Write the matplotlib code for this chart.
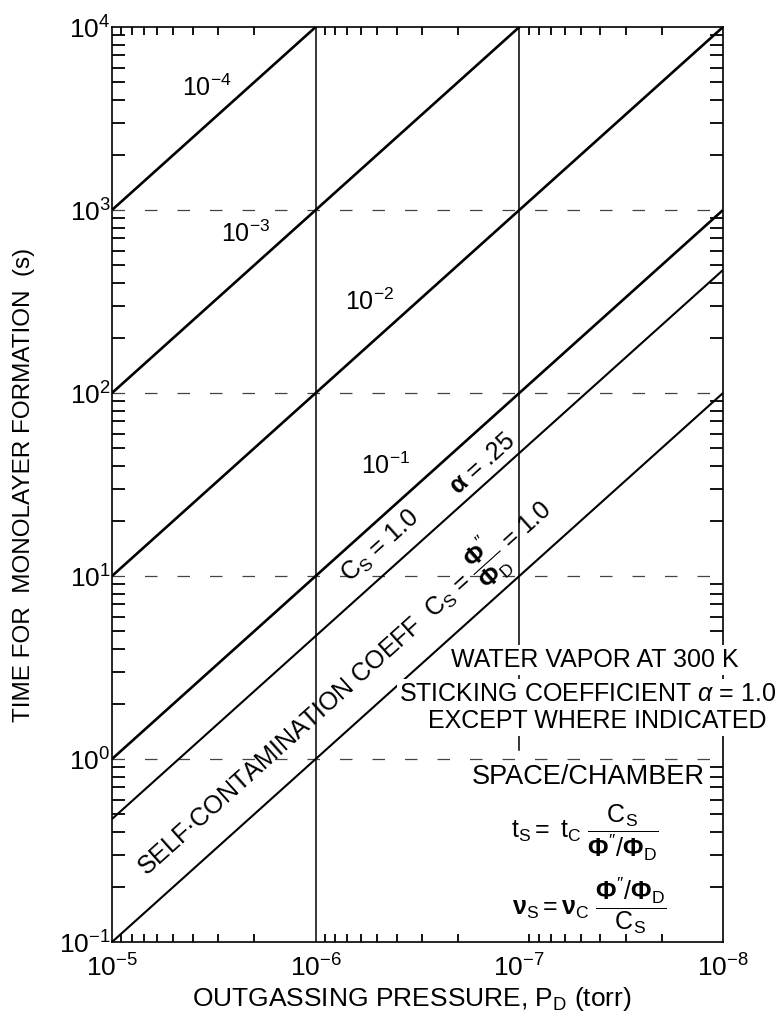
import math
import matplotlib
matplotlib.use('Agg')
import matplotlib.pyplot as plt
from matplotlib import font_manager
from matplotlib.ticker import LogLocator, NullFormatter, LogFormatterMathtext

# values
pressure_ends = [1e-5, 1e-8]          # torr, left and right edge of the plot
line_names = ['1e-4', '1e-3', '1e-2', '1e-1', 'Cs=1.0 a=.25', 'Cs=1.0']
time_left = [1e3, 1e2, 1e1, 1e0, 0.47, 0.1]       # s at 1e-5 torr
time_right = [1e6, 1e5, 1e4, 1e3, 470.0, 100.0]   # s at 1e-8 torr
x_grid = [1e-6, 1e-7]
y_grid = [1e0, 1e1, 1e2, 1e3]

# pick a narrow sans font if there is one
names = {f.name for f in font_manager.fontManager.ttflist}
font = 'Liberation Sans Narrow' if 'Liberation Sans Narrow' in names else 'Liberation Sans'
plt.rcParams['font.family'] = [font, 'DejaVu Sans']
plt.rcParams['mathtext.fontset'] = 'custom'
plt.rcParams['mathtext.rm'] = font
plt.rcParams['mathtext.it'] = font + ':italic'
plt.rcParams['mathtext.bf'] = font + ':bold'

fig = plt.figure(figsize=(7.76, 10.16), dpi=100)
ax = fig.add_axes([0.1443, 0.0728, 0.7874, 0.9006])
ax.set_xscale('log')
ax.set_yscale('log')
ax.set_xlim(1e-5, 1e-8)
ax.set_ylim(1e-1, 1e4)

# grid: solid verticals, broken horizontals
ax.axvline(x_grid[0], color='black', lw=1.1, zorder=1)
ax.axvline(x_grid[1], ymin=0.21, color='black', lw=1.1, zorder=1)
for yv in y_grid:
    ax.axhline(yv, color='#444444', lw=0.9, ls=(0, (10, 16)), zorder=1)

widths = [1.9, 1.9, 1.9, 1.9, 1.5, 1.5]
for tl, tr, w in zip(time_left, time_right, widths):
    ax.plot(pressure_ends, [tl, tr], color='black', lw=w, solid_capstyle='butt', zorder=2)

# ticks
ax.xaxis.set_minor_locator(LogLocator(base=10, subs=range(2, 10), numticks=20))
ax.yaxis.set_minor_locator(LogLocator(base=10, subs=range(2, 10), numticks=20))
ax.xaxis.set_minor_formatter(NullFormatter())
ax.yaxis.set_minor_formatter(NullFormatter())
ax.xaxis.set_major_formatter(LogFormatterMathtext())
ax.yaxis.set_major_formatter(LogFormatterMathtext())
ax.tick_params(which='both', direction='in', top=True, right=True, width=1.3, color='black')
ax.tick_params(axis='x', which='minor', length=6)
ax.tick_params(axis='y', which='minor', length=9.5)
ax.tick_params(which='major', length=0, labelsize=19)
ax.tick_params(axis='x', which='major', pad=9)
ax.tick_params(axis='y', which='major', pad=1)
for s in ax.spines.values():
    s.set_linewidth(1.2)

# slope of the curves on screen
ax_w = 7.76 * 0.7874 * 100
ax_h = 10.16 * 0.9006 * 100
ang = math.degrees(math.atan2(ax_h / 5, ax_w / 3))

fs = 18
ax.text(0.155, 0.934, r'10$^{-4}$', transform=ax.transAxes, fontsize=fs, ha='center', va='center')
ax.text(0.218, 0.774, r'10$^{-3}$', transform=ax.transAxes, fontsize=fs, ha='center', va='center')
ax.text(0.422, 0.700, r'10$^{-2}$', transform=ax.transAxes, fontsize=fs, ha='center', va='center')
ax.text(0.447, 0.520, r'10$^{-1}$', transform=ax.transAxes, fontsize=fs, ha='center', va='center')
ax.text(0.439, 0.432, r'C$_\mathrm{S}$ = 1.0', transform=ax.transAxes, fontsize=fs,
        ha='center', va='center', rotation=ang, rotation_mode='anchor')
ax.text(0.606, 0.523, r'$\mathbf{\alpha}$ = .25', transform=ax.transAxes, fontsize=fs,
        ha='center', va='center', rotation=ang, rotation_mode='anchor')
ax.text(0.383, 0.276,
        r'SELF·CONTAMINATION COEFF  C$_\mathrm{S}$ = $\dfrac{\mathbf{\Phi}^{\prime\prime}}{\mathbf{\Phi}_\mathrm{D}}$ = 1.0',
        transform=ax.transAxes, fontsize=fs, ha='center', va='center',
        rotation=ang, rotation_mode='anchor')

box = dict(facecolor='white', edgecolor='none', pad=2)
ax.text(0.790, 0.308, 'WATER VAPOR AT 300 K', transform=ax.transAxes, fontsize=fs,
        ha='center', va='center', bbox=box, clip_on=False, zorder=5)
ax.text(0.779, 0.271, r'STICKING COEFFICIENT $\alpha$ = 1.0', transform=ax.transAxes, fontsize=fs,
        ha='center', va='center', bbox=box, clip_on=False, zorder=5)
ax.text(0.794, 0.2415, 'EXCEPT WHERE INDICATED', transform=ax.transAxes, fontsize=fs,
        ha='center', va='center', bbox=box, clip_on=False, zorder=5)
ax.text(0.779, 0.180, 'SPACE/CHAMBER', transform=ax.transAxes,
        fontsize=19.5, ha='center', va='center', zorder=5)
ax.text(0.774, 0.120,
        r'$\mathrm{t_S = \ t_C}\ \dfrac{\mathrm{C_S}}{\mathbf{\Phi}^{\prime\prime}/\mathbf{\Phi}_\mathrm{D}}$',
        transform=ax.transAxes, fontsize=fs, ha='center', va='center', zorder=5)
ax.text(0.781, 0.040,
        r'$\mathbf{\nu}_\mathrm{S} = \mathbf{\nu}_\mathrm{C}\ \dfrac{\mathbf{\Phi}^{\prime\prime}/\mathbf{\Phi}_\mathrm{D}}{\mathrm{C_S}}$',
        transform=ax.transAxes, fontsize=fs, ha='center', va='center', zorder=5)

fig.text(24 / 776, 1 - 485 / 1016, 'TIME FOR  MONOLAYER FORMATION  (s)', rotation=90,
         fontsize=17.5, ha='center', va='center')
fig.text(412 / 776, 1 - 999 / 1016, r'OUTGASSING PRESSURE, P$_\mathrm{D}$ (torr)',
         fontsize=19, ha='center', va='center')

fig.savefig('out.png', dpi=100)
